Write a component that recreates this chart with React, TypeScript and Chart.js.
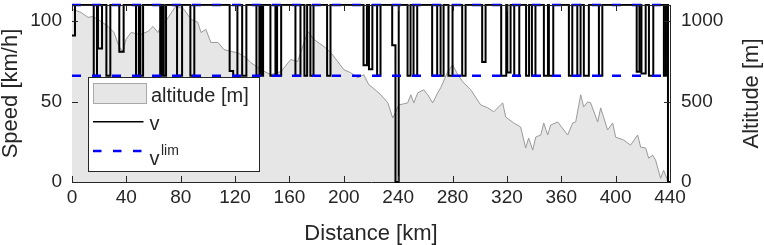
import React, { useEffect, useRef } from 'react';
import { Chart, registerables } from 'chart.js';

Chart.register(...registerables);

// ---------- data ----------
const xTicks = [0, 40, 80, 120, 160, 200, 240, 280, 320, 360, 400, 440];
const speedTicks = [0, 50, 100];
const altTicks = [0, 500, 1000];

// altitude profile: [distance km, altitude m]
const altitudeProfile: [number, number][] = [
  [0, 1065], [0.7, 1073], [6.6, 1054], [11.8, 1023], [15.4, 1029], [21.3, 998],
  [26.5, 967], [30.9, 929], [34.6, 842], [37.5, 811], [39.7, 886], [43.4, 929],
  [50.7, 917], [55.9, 936], [59.6, 967], [63.2, 929], [65.4, 967], [69.9, 1011],
  [76.5, 1095], [82.4, 1073], [87.5, 1011], [92.6, 992], [94.9, 929], [98.5, 948],
  [102.2, 867], [107.4, 867], [111.8, 823], [116.9, 811], [122, 804], [127.9, 773],
  [131.6, 742], [139, 698], [146.3, 667], [153.7, 686], [161, 761], [166, 748],
  [173.5, 936], [178, 886], [185.3, 842], [190.4, 804], [195.6, 748], [200, 698],
  [205.1, 679], [210.3, 648], [214.7, 667], [218.4, 604], [221.3, 586], [227.2, 542],
  [232.4, 492], [236, 398], [238.2, 436], [240.4, 479], [244.1, 486], [247, 492],
  [249.3, 542], [251.5, 492], [254.4, 554], [258.8, 573], [261.8, 542], [265.4, 492],
  [269.1, 554], [271.3, 586], [276.5, 686], [280.1, 729], [283.8, 667], [287.5, 623],
  [293.4, 573], [300.7, 479], [305.9, 461], [310.3, 436], [316.9, 492], [319.1, 404],
  [325, 367], [330.1, 342], [333.8, 211], [336, 273], [339, 198], [341.2, 279],
  [344.9, 292], [347.1, 367], [350, 292], [352.2, 354], [357.4, 373], [364.7, 292],
  [368.4, 367], [370.6, 373], [374.3, 542], [376.5, 467], [379.4, 498], [381.6, 492],
  [386.8, 373], [389, 461], [394.1, 323], [397.8, 367], [400, 279], [405.9, 261],
  [411, 229], [416.2, 292], [418.4, 217], [422.1, 211], [424.3, 148], [427.2, 167],
  [429.4, 136], [433.1, 23], [435.3, 73], [438.2, 11], [440, 0],
];

// speed profile v: [distance km where the value starts, speed km/h] (step function)
const speedProfile: [number, number][] = [
  [0, 91], [2.2, 110],
  [16.0, 66], [18.4, 110],
  [19.1, 83], [22.1, 110],
  [25.3, 66], [28.2, 110],
  [34.8, 81], [38.0, 110],
  [47.1, 66], [49.2, 110], [50.3, 66], [52.3, 110],
  [64.9, 66], [66.3, 110], [67.5, 66], [69.2, 110],
  [77.3, 66], [81.0, 110],
  [87.1, 66], [90.0, 110],
  [116.0, 69], [118.6, 66], [121.7, 110],
  [125.2, 66], [128.3, 110],
  [135.7, 66], [137.9, 110], [139.2, 66], [140.6, 110],
  [146.0, 66], [149.7, 110],
  [150.9, 66], [153.9, 110],
  [164.4, 66], [168.1, 110],
  [171.0, 66], [173.0, 110], [175.4, 66], [177.7, 110],
  [187.7, 66], [190.2, 110],
  [214.5, 72.5], [217.0, 110], [218.5, 70], [221.0, 110],
  [224.5, 66], [227.0, 110],
  [235.6, 85], [238.0, 0], [240.4, 110],
  [246.9, 66], [249.1, 110], [251.3, 66], [254.0, 110],
  [265.0, 66], [268.7, 110],
  [271.2, 66], [273.4, 110],
  [277.0, 66], [280.0, 110],
  [287.1, 66], [289.6, 110],
  [301.8, 74.5], [304.3, 110],
  [315.8, 66], [319.5, 110],
  [320.3, 68], [322.7, 110],
  [325.4, 66], [329.1, 110],
  [334.1, 66], [336.3, 110],
  [338.4, 66], [341.0, 110],
  [347.2, 66], [350.2, 110], [350.9, 66], [354.1, 110],
  [365.6, 66], [368.1, 110],
  [371.8, 66], [374.2, 110],
  [376.6, 66], [380.3, 110],
  [387.7, 66], [390.2, 110],
  [415.5, 68.5], [417.5, 110], [419.0, 67.5], [422.1, 110],
  [424.5, 66], [427.7, 110],
  [435.5, 66], [437.0, 110], [438.5, 0], [440, 0],
];

// speed limits (upper and lower level)
const vLimUpper = 110;
const vLimLower = 66;
const distanceRange = [0, 440];

const legendLabels = ['altitude [m]', 'v', 'v', 'lim'];
const axisTitles = { x: 'Distance [km]', y: 'Speed [km/h]', yAlt: 'Altitude [m]' };

// ---------- styles ----------
const FONT = '"Liberation Sans", Arial, Helvetica, sans-serif';
const AX = '#262626';
const ALT_FILL = '#e6e6e6';
const ALT_LINE = '#999999';
const V_COLOR = '#000000';
const LIM_COLOR = '#0000ff';
const DASH = [9, 11];

const zeroPad = (s: any) => {
  s.paddingTop = 0;
  s.paddingBottom = 0;
  s.paddingLeft = 0;
  s.paddingRight = 0;
};

const decorPlugin = {
  id: 'decor',
  afterDatasetsDraw(chart: any) {
    const { ctx, chartArea } = chart;
    const { left, right, top, bottom } = chartArea;
    const xs = chart.scales.x;
    const ys = chart.scales.y;
    const ya = chart.scales.yAlt;
    ctx.save();
    ctx.strokeStyle = AX;
    ctx.lineWidth = 1;
    ctx.beginPath();
    ctx.moveTo(left, top + 0.5);
    ctx.lineTo(right, top + 0.5);
    const tl = 6;
    xTicks.forEach((v) => {
      const px = Math.round(xs.getPixelForValue(v)) + 0.5;
      ctx.moveTo(px, bottom);
      ctx.lineTo(px, bottom - tl);
      ctx.moveTo(px, top);
      ctx.lineTo(px, top + tl);
    });
    speedTicks.forEach((v) => {
      const py = Math.round(ys.getPixelForValue(v)) + 0.5;
      ctx.moveTo(left, py);
      ctx.lineTo(left + tl, py);
    });
    altTicks.forEach((v) => {
      const py = Math.round(ya.getPixelForValue(v)) + 0.5;
      ctx.moveTo(right, py);
      ctx.lineTo(right - tl, py);
    });
    ctx.stroke();
    ctx.restore();
  },
  afterDraw(chart: any) {
    const { ctx, chartArea } = chart;
    ctx.save();
    ctx.fillStyle = AX;
    ctx.font = `22px ${FONT}`;
    ctx.textAlign = 'center';
    ctx.textBaseline = 'middle';
    ctx.translate(752, (chartArea.top + chartArea.bottom) / 2);
    ctx.rotate(-Math.PI / 2);
    ctx.fillText(axisTitles.yAlt, 0, 0);
    ctx.restore();

    ctx.save();
    ctx.fillStyle = '#ffffff';
    ctx.fillRect(88.5, 77.5, 171, 94);
    ctx.strokeStyle = AX;
    ctx.lineWidth = 1;
    ctx.strokeRect(88.5, 77.5, 171, 94);
    ctx.fillStyle = ALT_FILL;
    ctx.fillRect(93.5, 83.5, 53, 20);
    ctx.strokeStyle = '#a8a8a8';
    ctx.strokeRect(93.5, 83.5, 53, 20);
    ctx.fillStyle = AX;
    ctx.font = `20px ${FONT}`;
    ctx.textAlign = 'left';
    ctx.textBaseline = 'alphabetic';
    ctx.fillText(legendLabels[0], 151, 101.5);
    ctx.strokeStyle = V_COLOR;
    ctx.lineWidth = 1.5;
    ctx.beginPath();
    ctx.moveTo(93, 121.7);
    ctx.lineTo(143.5, 121.7);
    ctx.stroke();
    ctx.fillText(legendLabels[1], 149.5, 130);
    ctx.strokeStyle = LIM_COLOR;
    ctx.lineWidth = 2.5;
    ctx.setLineDash([8.5, 11.5]);
    ctx.beginPath();
    ctx.moveTo(93, 151);
    ctx.lineTo(146, 151);
    ctx.stroke();
    ctx.setLineDash([]);
    ctx.fillText(legendLabels[2], 149.5, 165);
    ctx.font = `14px ${FONT}`;
    ctx.fillText(legendLabels[3], 161, 155);
    ctx.restore();
  },
};

export default function App() {
  const ref = useRef<HTMLCanvasElement>(null);
  useEffect(() => {
    if (!ref.current) return;
    const tickFont = { family: FONT, size: 19 };
    const titleFont = { family: FONT, size: 22, lineHeight: 1 };
    const chart = new Chart(ref.current, {
      type: 'line',
      data: {
        datasets: [
          {
            label: 'vlim upper',
            data: distanceRange.map((d) => ({ x: d, y: vLimUpper })),
            borderColor: LIM_COLOR,
            borderWidth: 2.5,
            borderDash: DASH,
            pointRadius: 0,
            yAxisID: 'y',
            order: 1,
            clip: false,
          },
          {
            label: 'vlim lower',
            data: distanceRange.map((d) => ({ x: d, y: vLimLower })),
            borderColor: LIM_COLOR,
            borderWidth: 2.5,
            borderDash: DASH,
            pointRadius: 0,
            yAxisID: 'y',
            order: 1,
            clip: false,
          },
          {
            label: 'v',
            data: speedProfile.map(([d, v]) => ({ x: d, y: v })),
            borderColor: V_COLOR,
            borderWidth: 2,
            stepped: true,
            pointRadius: 0,
            yAxisID: 'y',
            order: 2,
            clip: false,
          },
          {
            label: 'altitude [m]',
            data: altitudeProfile.map(([d, a]) => ({ x: d, y: a })),
            borderColor: ALT_LINE,
            borderWidth: 1,
            backgroundColor: ALT_FILL,
            fill: 'origin',
            pointRadius: 0,
            tension: 0,
            yAxisID: 'yAlt',
            order: 3,
            clip: false,
          },
        ],
      },
      options: {
        responsive: false,
        animation: false,
        devicePixelRatio: 1,
        layout: { padding: { top: 5, left: 0, right: 0, bottom: 0 } },
        plugins: { legend: { display: false }, tooltip: { enabled: false } },
        scales: {
          x: {
            type: 'linear',
            position: 'bottom',
            min: distanceRange[0],
            max: distanceRange[1],
            afterBuildTicks: (s: any) => {
              s.ticks = xTicks.map((v) => ({ value: v }));
            },
            afterFit: (s: any) => {
              s.height = 63;
              zeroPad(s);
            },
            grid: { display: false, drawTicks: false },
            border: { display: true, color: AX, width: 1 },
            ticks: {
              font: tickFont,
              color: AX,
              padding: 4,
              maxRotation: 0,
              autoSkip: false,
              callback: (v: any) => String(v),
            },
            title: { display: true, text: axisTitles.x, font: titleFont, color: AX, padding: 0 },
          },
          y: {
            type: 'linear',
            position: 'left',
            min: 0,
            max: 110,
            afterBuildTicks: (s: any) => {
              s.ticks = speedTicks.map((v) => ({ value: v }));
            },
            afterFit: (s: any) => {
              s.width = 72;
              zeroPad(s);
            },
            grid: { display: false, drawTicks: false },
            border: { display: true, color: AX, width: 1 },
            ticks: { font: tickFont, color: AX, padding: 10, callback: (v: any) => String(v) },
            title: { display: true, text: axisTitles.y, font: titleFont, color: AX, padding: 0 },
          },
          yAlt: {
            type: 'linear',
            position: 'right',
            min: 0,
            max: 1100,
            afterBuildTicks: (s: any) => {
              s.ticks = altTicks.map((v) => ({ value: v }));
            },
            afterFit: (s: any) => {
              s.width = 94;
              zeroPad(s);
            },
            grid: { display: false, drawTicks: false },
            border: { display: true, color: AX, width: 1 },
            ticks: { font: tickFont, color: AX, padding: 11, callback: (v: any) => String(v) },
            title: { display: false },
          },
        },
      },
      plugins: [decorPlugin],
    } as any);
    return () => chart.destroy();
  }, []);

  return (
    <div style={{ position: 'fixed', left: 0, top: 0, width: 764, height: 245, background: '#fff' }}>
      <canvas ref={ref} width={764} height={245} style={{ width: 764, height: 245, display: 'block' }} />
    </div>
  );
}
